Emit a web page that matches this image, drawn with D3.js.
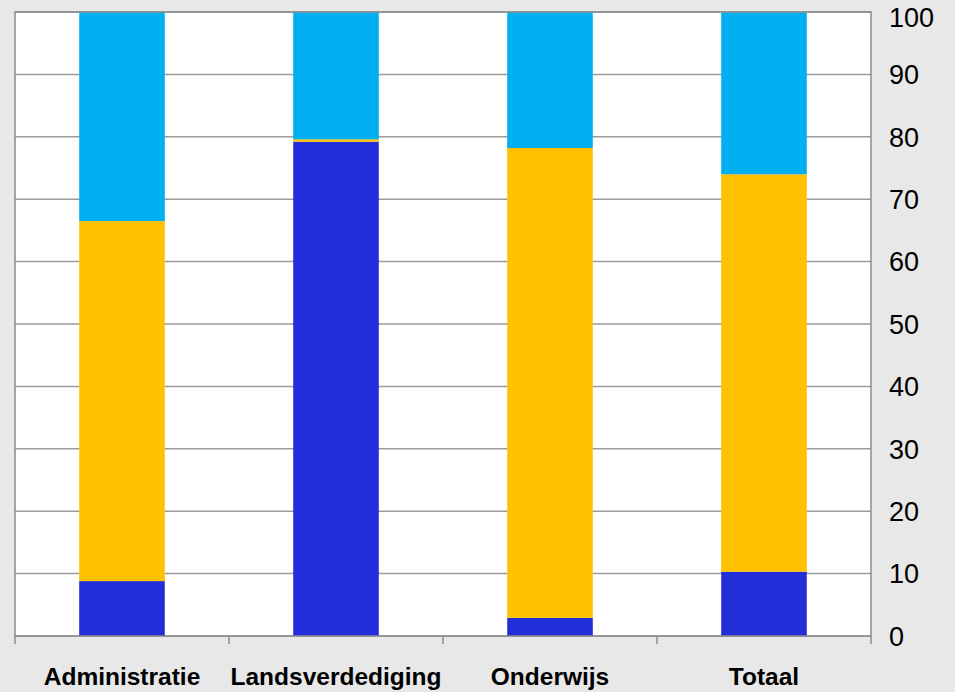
<!DOCTYPE html>
<html>
<head>
<meta charset="utf-8">
<script src="https://cdn.jsdelivr.net/npm/d3@7/dist/d3.min.js"></script>
<style>
  html, body { margin: 0; padding: 0; background: #e8e8e8; }
  svg { display: block; }
</style>
</head>
<body>
<svg id="chart" width="955" height="692"></svg>
<script>
// ---- data ----
const categories = ["Administratie", "Landsverdediging", "Onderwijs", "Totaal"];
const seriesKeys = ["Reeks 1", "Reeks 2", "Reeks 3"];
const series1 = [8.8, 79.2, 2.9, 10.3];     // dark blue (bottom)
const series2 = [57.7, 0.4, 75.3, 63.7];    // orange (middle)
const series3 = [33.5, 20.4, 21.8, 26.0];   // light blue (top)
const yTicks = [0, 10, 20, 30, 40, 50, 60, 70, 80, 90, 100];
const colors = ["#222ed8", "#ffc000", "#00b0f0"];

const rows = categories.map((c, i) => ({
  cat: c,
  "Reeks 1": series1[i],
  "Reeks 2": series2[i],
  "Reeks 3": series3[i]
}));

const W = 955, H = 692;
const margin = { top: 12, right: 84, bottom: 56, left: 15 };
const iw = W - margin.left - margin.right;
const ih = H - margin.top - margin.bottom;

const svg = d3.select("#chart");
svg.append("rect").attr("width", W).attr("height", H).attr("fill", "#e8e8e8");
const g = svg.append("g").attr("transform", `translate(${margin.left},${margin.top})`);

const x = d3.scaleBand().domain(categories).range([0, iw]).paddingInner(0.6).paddingOuter(0.3);
const xEdges = d3.scaleBand().domain(categories).range([0, iw]);
const y = d3.scaleLinear().domain([0, 100]).range([ih, 0]);

// plot background
g.append("rect").attr("width", iw).attr("height", ih).attr("fill", "#ffffff");

// gridlines
g.append("g").selectAll("line").data(yTicks).join("line")
  .attr("x1", 0).attr("x2", iw)
  .attr("y1", d => y(d)).attr("y2", d => y(d))
  .attr("stroke", "#9a9a9a").attr("stroke-width", 1.5);

// stacked bars
const stack = d3.stack().keys(seriesKeys)(rows);
g.append("g").selectAll("g").data(stack).join("g")
  .attr("fill", (d, i) => colors[i])
  .selectAll("rect").data(d => d).join("rect")
  .attr("x", d => x(d.data.cat))
  .attr("width", x.bandwidth())
  .attr("y", d => y(d[1]))
  .attr("height", d => y(d[0]) - y(d[1]));

// plot border
g.append("rect").attr("width", iw).attr("height", ih)
  .attr("fill", "none").attr("stroke", "#8c8c8c").attr("stroke-width", 1.5);

// bottom axis ticks (between categories)
const edgePos = categories.map(c => xEdges(c)).concat([iw]);
g.append("g").selectAll("line").data(edgePos).join("line")
  .attr("x1", d => d).attr("x2", d => d)
  .attr("y1", ih).attr("y2", ih + 8)
  .attr("stroke", "#8c8c8c").attr("stroke-width", 1.5);

// category labels
g.append("g").selectAll("text").data(categories).join("text")
  .attr("x", d => xEdges(d) + xEdges.bandwidth() / 2)
  .attr("y", ih + 49)
  .attr("text-anchor", "middle")
  .attr("font-family", "Liberation Sans, Arial, sans-serif")
  .attr("font-weight", "bold")
  .attr("font-size", "24.5px")
  .attr("fill", "#000")
  .text(d => d);

// right axis labels
g.append("g").selectAll("text").data(yTicks).join("text")
  .attr("x", iw + 18)
  .attr("y", d => Math.max(y(d), 5.5))
  .attr("dy", "0.36em")
  .attr("font-family", "Liberation Sans, Arial, sans-serif")
  .attr("font-size", "27px")
  .attr("fill", "#000")
  .text(d => d);
</script>
</body>
</html>
